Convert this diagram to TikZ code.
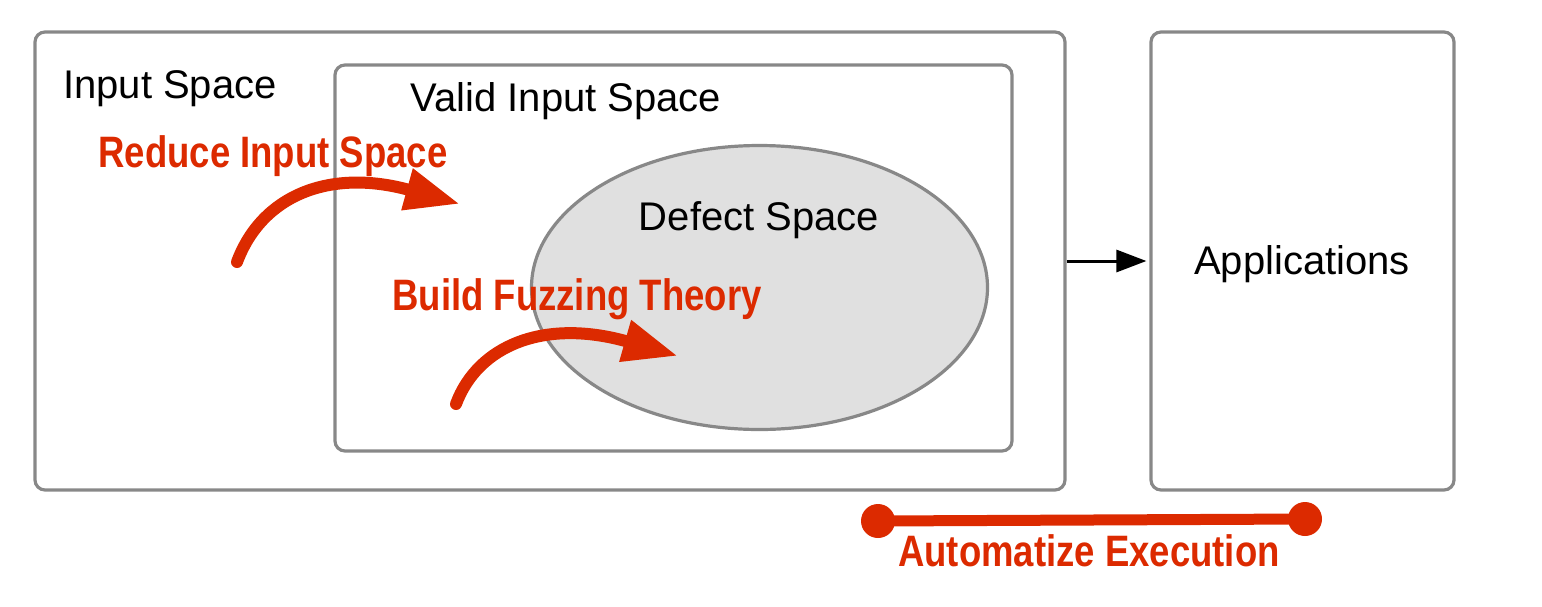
\documentclass[tikz,border=0pt]{standalone}
\usepackage{fontspec}
\setmainfont{Liberation Sans}
\usetikzlibrary{arrows.meta,shapes.geometric}
\definecolor{redorange}{RGB}{220,42,0}
\definecolor{boxgray}{RGB}{136,136,136}
\definecolor{defectfill}{RGB}{224,224,224}
\tikzset{
  spacebox/.style={draw=boxgray, line width=3.2pt, rounded corners=10pt, inner sep=0pt},
  plainlabel/.style={inner sep=0pt, font=\fontsize{40}{48}\selectfont},
  redlabel/.style={inner sep=0pt, text=redorange, xscale=0.83, font=\fontsize{44}{52}\selectfont\bfseries},
  redarrow/.style={draw=redorange, line width=12pt, line cap=round, -{Triangle[length=55pt,width=40pt]}, redorange},
}
\begin{document}
\begin{tikzpicture}[x=1pt,y=-1pt]
\useasboundingbox (0,0) rectangle (1542,606);
\node[spacebox, minimum width=1030pt, minimum height=458pt] (outer) at (550,261) {};
\node[spacebox, minimum width=677pt, minimum height=386pt] (valid) at (673.5,258) {};
\node[spacebox, minimum width=303pt, minimum height=458pt] (apps) at (1302.5,261) {};
\node[ellipse, draw=boxgray, fill=defectfill, line width=3.2pt, minimum width=456pt, minimum height=284pt, inner sep=0pt] (defect) at (759.5,287.5) {};

\node[plainlabel, anchor=west] (inlbl) at (63,89) {Input Space};
\node[plainlabel] (validlbl) at (566,101) {Valid Input Space};
\node[plainlabel] (defectlbl) at (759,220) {Defect Space};
\node[plainlabel] (appslbl) at (1302,264) {Applications};

\node[redlabel] (reduce) at (273,156) {Reduce Input Space};
\node[redlabel] (build) at (577,299) {Build Fuzzing Theory};
\node[redlabel] (auto) at (1089,551) {Automatize Execution};

\coordinate (r1s) at (237,262);
\coordinate (r1e) at (460,204);
\draw[redarrow] (r1s) .. controls (262,195) and (330,168) .. (r1e);
\coordinate (r2s) at (456,404);
\coordinate (r2e) at (678,356);
\draw[redarrow] (r2s) .. controls (478,345) and (545,318) .. (r2e);

\draw[line width=3pt, -{Triangle[length=30pt,width=22pt]}, shorten >=3pt] (outer.east) -- (apps.west);

\coordinate (d1) at (878,521);
\coordinate (d2) at (1305,519);
\draw[redorange, line width=11pt] (d1) -- (d2);
\fill[redorange] (d1) circle (17pt);
\fill[redorange] (d2) circle (17pt);
\end{tikzpicture}
\end{document}
